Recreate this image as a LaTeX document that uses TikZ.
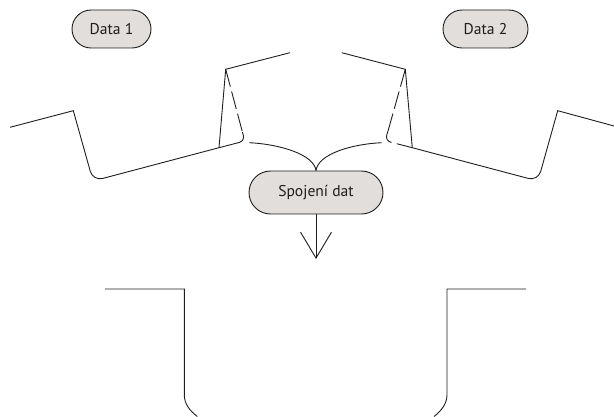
\documentclass[tikz,border=0pt]{standalone}
\usepackage{fontspec}
\setmainfont{PT Sans}
\usepackage{xcolor}
\usetikzlibrary{positioning}
\usetikzlibrary{arrows.meta}
\usetikzlibrary{shapes.misc}
\definecolor{datafill}{HTML}{E2DEDB}
\definecolor{dataline}{HTML}{1E1E1E}

\begin{document}
\begin{tikzpicture}[
      x=1pt, y=-1pt,
      type-data/.style={rounded rectangle, draw=dataline, fill=datafill, line width=0.9pt, text=dataline, font=\fontsize{15.6}{17}\selectfont, inner sep=0pt, minimum height=38pt},
      type-line/.style={draw=dataline, line width=0.9pt},
      type-dash/.style={type-line, dash pattern=on 18pt off 5pt}
    ]
      \useasboundingbox (0,0) rectangle (614,417);

      \node[type-data, minimum width=79pt] (data1) at (111.5,29) {Data 1};
      \node[type-data, minimum width=85pt] (data2) at (485.5,29) {Data 2};
      \node[type-data, minimum width=134pt, minimum height=43pt] (merge) at (316,192.5) {Spojení dat};

      \coordinate (merge-left) at (249.3,142.7);
      \coordinate (merge-right) at (381.7,142.7);
      \coordinate (out) at (316,259);

      \draw[type-line] (merge-left) .. controls (278,144) and (314,154) .. (merge.north);
      \draw[type-line] (merge-right) .. controls (352,144) and (318,154) .. (merge.north);
      \draw[type-line, -{Straight Barb[length=26pt,width=31pt,line width=0.9pt]}] (merge.south) -- (out);

      % left table
      \coordinate (l-a) at (10,127.3);
      \coordinate (l-b) at (73.3,110.7);
      \coordinate (l-c) at (93,181);
      \coordinate (l-d) at (219,147.7);
      \coordinate (l-e) at (245,141);
      \coordinate (l-f) at (242.4,132);
      \coordinate (l-g) at (225.7,69.3);
      \coordinate (l-h) at (290,52.7);
      \draw[type-line] (l-a) -- (l-b) [rounded corners=10pt] -- (l-c) -- (l-d);
      \draw[type-line] (l-d) -- (l-g) -- (l-h);
      \draw[type-line, rounded corners=6pt] (l-d) -- (l-e) -- (l-f);
      \draw[type-dash] (l-g) -- (l-f);

      % right table
      \coordinate (r-a) at (614,126);
      \coordinate (r-b) at (557.7,110.7);
      \coordinate (r-c) at (538,181);
      \coordinate (r-d) at (412.3,147.7);
      \coordinate (r-e) at (385,141);
      \coordinate (r-f) at (388.6,129);
      \coordinate (r-g) at (405.3,69.3);
      \coordinate (r-h) at (341.7,52.7);
      \coordinate (r-i) at (396.7,143.7);
      \coordinate (r-j) at (391.5,142.4);
      \draw[type-line] (r-a) -- (r-b) [rounded corners=10pt] -- (r-c) -- (r-d);
      \draw[type-line] (r-d) -- (r-g) -- (r-h);
      \draw[type-line] (r-d) -- (r-i);
      \draw[type-line, rounded corners=6pt] (r-f) -- (r-e) -- (r-j);
      \draw[type-dash] (r-g) -- (r-f);

      % result table
      \coordinate (b-a) at (105,289);
      \coordinate (b-b) at (184.3,289);
      \coordinate (b-c) at (184.3,395);
      \coordinate (b-d) at (197.3,416.5);
      \coordinate (b-e) at (526,289);
      \coordinate (b-f) at (447,289);
      \coordinate (b-g) at (447,395);
      \coordinate (b-h) at (434,416.5);
      \draw[type-line] (b-a) -- (b-b) -- (b-c) .. controls (184.3,404) and (190,411) .. (b-d);
      \draw[type-line] (b-e) -- (b-f) -- (b-g) .. controls (447,404) and (441,411) .. (b-h);
    \end{tikzpicture}
\end{document}
